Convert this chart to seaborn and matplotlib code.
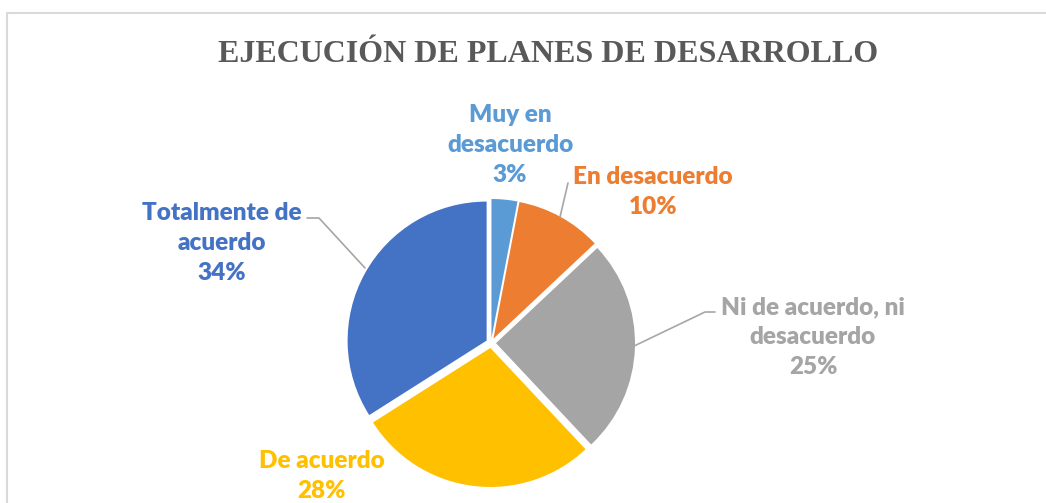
import matplotlib
matplotlib.use("Agg")
import matplotlib.pyplot as plt
import seaborn as sns

# ---- data ----
categories = ["Muy en\ndesacuerdo", "En desacuerdo", "Ni de acuerdo, ni\ndesacuerdo",
              "De acuerdo", "Totalmente de\nacuerdo"]
percentages = [3, 10, 25, 28, 34]
pct_labels = ["3%", "10%", "25%", "28%", "34%"]
colors = ["#5B9BD5", "#ED7D31", "#A5A5A5", "#FFC000", "#4472C4"]
title = "EJECUCIÓN DE PLANES DE DESARROLLO"

sns.set_theme(style="white")
plt.rcParams["font.family"] = ["Lato", "DejaVu Sans"]

W, H = 1046, 503
fig = plt.figure(figsize=(W / 100, H / 100), dpi=100)
ax = fig.add_axes([0, 0, 1, 1])

# pie (y axis inverted: startangle -90 / counterclock True -> visually clockwise from top)
cx, cy, r = 491, 343, 139
ax.pie(percentages, colors=colors, startangle=-90, counterclock=True,
       radius=r, center=(cx, cy), explode=[5] * len(percentages),
       wedgeprops=dict(linewidth=0))

ax.set_xlim(0, W)
ax.set_ylim(H, 0)
ax.set_aspect("equal")
ax.axis("off")

# frame of chart area
ax.plot([7, 7, W + 5], [H + 5, 12.5, 12.5], color="#D9D9D9", lw=1.5, clip_on=False)

# title
ax.text(548, 62, title, ha="center", va="baseline", fontsize=23, fontweight="bold",
        family=["Liberation Serif", "DejaVu Serif"], color="#595959")

# labels
label_pos = [(510, 145), (653, 192), (813, 337), (322, 476), (222, 243)]
for cat, pct, col, (x, y) in zip(categories, pct_labels, colors, label_pos):
    ax.text(x, y, f"{cat}\n{pct}", ha="center", va="center", color=col,
            fontsize=17.5, fontweight="heavy", linespacing=1.45)

# leader lines
lc = "#A6A6A6"
ax.plot([568, 560], [183, 217], color=lc, lw=1.2)
ax.plot([715, 705, 632], [312, 312, 347], color=lc, lw=1.2)
ax.plot([307, 319, 365], [218, 218, 268], color=lc, lw=1.2)

fig.savefig("out.png", dpi=100, facecolor="white")
